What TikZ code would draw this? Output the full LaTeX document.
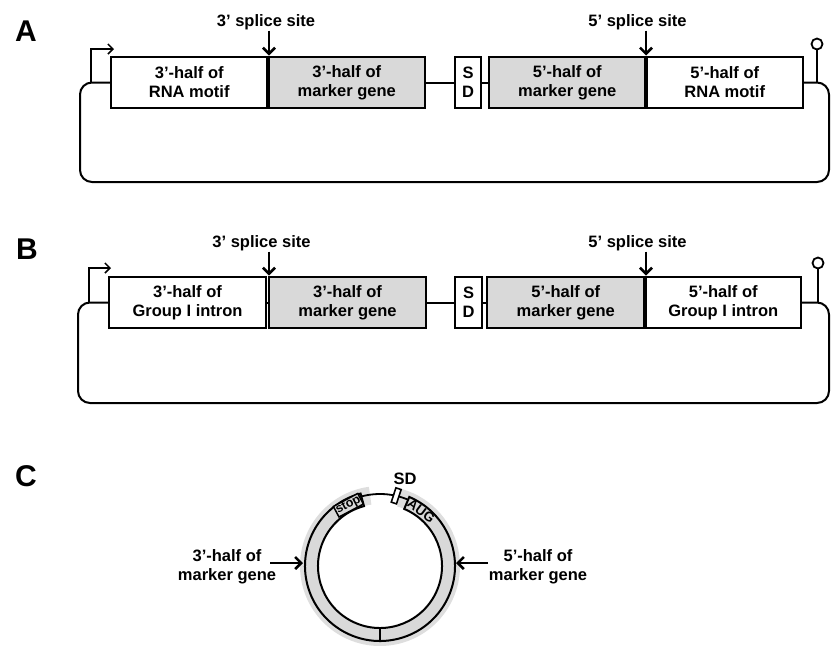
\documentclass[tikz,border=0pt]{standalone}
\usepackage{fontspec}
\setmainfont{Liberation Sans}
\usetikzlibrary{arrows.meta}
\definecolor{boxgray}{RGB}{217,217,217}
\definecolor{halogray}{RGB}{222,222,222}
\begin{document}
\begin{tikzpicture}[x=1pt,y=-1pt,
  lbl/.style={font=\fontsize{16.5}{19}\selectfont\bfseries, align=center, inner sep=1pt},
  box/.style={draw, line width=2.4pt, minimum height=51.5pt, inner sep=0pt, lbl},
  wbox/.style={box, fill=white},
  gbox/.style={box, fill=boxgray},
  conn/.style={line width=2pt},
  splice/.style={line width=2.6pt, -{Straight Barb[length=6pt,width=12pt,line width=2.6pt]}},
  prom/.style={line width=1.5pt, -{Straight Barb[length=5pt,width=10pt,line width=1.5pt]}},
  term/.style={circle, draw, line width=1.8pt, fill=white, minimum size=11pt, inner sep=0pt},
  panel/.style={font=\fontsize{30}{30}\selectfont\bfseries, inner sep=0pt},
  arr/.style={line width=2.6pt, -{Straight Barb[length=6pt,width=12pt,line width=2.6pt]}},
]
\useasboundingbox (0,0) rectangle (831,646);

% ---------------- Panel A ----------------
\node[panel] (pA) at (26,31) {A};
\node[wbox, minimum width=156.5pt] (a1) at (189.25,82.5) {3’-half of\\RNA motif};
\node[gbox, minimum width=156.5pt] (a2) at (346.75,82.5) {3’-half of\\marker gene};
\node[wbox, minimum width=26pt] (asd) at (468,82.5) {S\\D};
\node[gbox, minimum width=156.5pt] (a3) at (567.25,82.5) {5’-half of\\marker gene};
\node[wbox, minimum width=156.5pt] (a4) at (724.75,82.5) {5’-half of\\RNA motif};
\draw[conn] (a2.east) -- (asd.west);
\draw[conn] (asd.east) -- (a3.west);
\draw[conn, rounded corners=12pt] (a1.west) -- (80,82.5) -- (80,182) -- (829,182) -- (829,82.5) -- (a4.east);
\node[lbl, anchor=base] (s3A) at (266,26) {3’ splice site};
\coordinate (s3At) at (269,55.5);
\draw[splice] (s3A.south -| s3At) -- (s3At);
\node[lbl, anchor=base] (s5A) at (637.5,26) {5’ splice site};
\coordinate (s5At) at (646,55.5);
\draw[splice] (s5A.south -| s5At) -- (s5At);
\coordinate (prA0) at (91,82.5);
\coordinate (prA1) at (91,49);
\coordinate (prA2) at (114,49);
\draw[prom] (prA0) -- (prA1) -- (prA2);
\node[term] (tA) at (817,44) {};
\coordinate (tA0) at (817,82.5);
\draw[line width=1.8pt] (tA.south) -- (tA0);

% ---------------- Panel B ----------------
\node[panel] (pB) at (27,249) {B};
\node[wbox, minimum width=157pt] (b1) at (187.5,302.5) {3’-half of\\Group I intron};
\node[gbox, minimum width=157pt] (b2) at (347.5,302.5) {3’-half of\\marker gene};
\node[wbox, minimum width=27pt] (bsd) at (468.5,302.5) {S\\D};
\node[gbox, minimum width=157.5pt] (b3) at (565.75,302.5) {5’-half of\\marker gene};
\node[wbox, minimum width=155.5pt] (b4) at (723.25,302.5) {5’-half of\\Group I intron};
\draw[conn] (b1.east) -- (b2.west);
\draw[conn] (b2.east) -- (bsd.west);
\draw[conn] (bsd.east) -- (b3.west);
\draw[conn, rounded corners=12pt] (b1.west) -- (78,302.5) -- (78,403) -- (829,403) -- (829,302.5) -- (b4.east);
\node[lbl, anchor=base] (s3B) at (261.5,247) {3’ splice site};
\coordinate (s3Bt) at (269,275.5);
\draw[splice] (s3B.south -| s3Bt) -- (s3Bt);
\node[lbl, anchor=base] (s5B) at (637.5,247) {5’ splice site};
\coordinate (s5Bt) at (646,275.5);
\draw[splice] (s5B.south -| s5Bt) -- (s5Bt);
\coordinate (prB0) at (89,302.5);
\coordinate (prB1) at (89,268);
\coordinate (prB2) at (111,268);
\draw[prom] (prB0) -- (prB1) -- (prB2);
\node[term] (tB) at (818,263) {};
\coordinate (tB0) at (818,302.5);
\draw[line width=1.8pt] (tB.south) -- (tB0);

% ---------------- Panel C ----------------
\node[panel] (pC) at (26,476) {C};
\begin{scope}[shift={(380,566)}, y=1pt]
  \fill[halogray] (98:80) arc[start angle=98, end angle=434, radius=80]
     -- (434:62) arc[start angle=434, end angle=98, radius=62] -- cycle;
  \filldraw[fill=boxgray, line width=2pt] (105:75) arc[start angle=105, end angle=427, radius=75]
     -- (427:62) arc[start angle=427, end angle=105, radius=62] -- cycle;
  \draw[line width=2pt] (270:62) -- (270:75);
  \draw[line width=1.8pt] (106:72) arc[start angle=106, end angle=67, radius=72];
  \node[draw, fill=white, line width=1.6pt, minimum width=15pt, minimum height=5.5pt,
        inner sep=0pt, rotate=72] (sdC) at (77:72) {};
  \node[draw, fill=boxgray, line width=1.5pt, rotate=28, inner sep=0.6pt,
        font=\fontsize{12.5}{12.5}\selectfont\bfseries] (stopC) at (117.5:68.5) {stop};
  \node[rotate=-37, inner sep=0pt,
        font=\fontsize{13.5}{13.5}\selectfont\bfseries] (augC) at (53:68.5) {AUG};
\end{scope}
\node[lbl] (sdlC) at (405,479) {SD};
\node[lbl] (l3C) at (227,567) {3’-half of\\marker gene};
\node[lbl] (l5C) at (538,567) {5’-half of\\marker gene};
\coordinate (l3s) at (270,563);
\coordinate (l3t) at (303,563);
\coordinate (l5s) at (488,563);
\coordinate (l5t) at (456,563);
\draw[arr] (l3s) -- (l3t);
\draw[arr] (l5s) -- (l5t);
\end{tikzpicture}
\end{document}
